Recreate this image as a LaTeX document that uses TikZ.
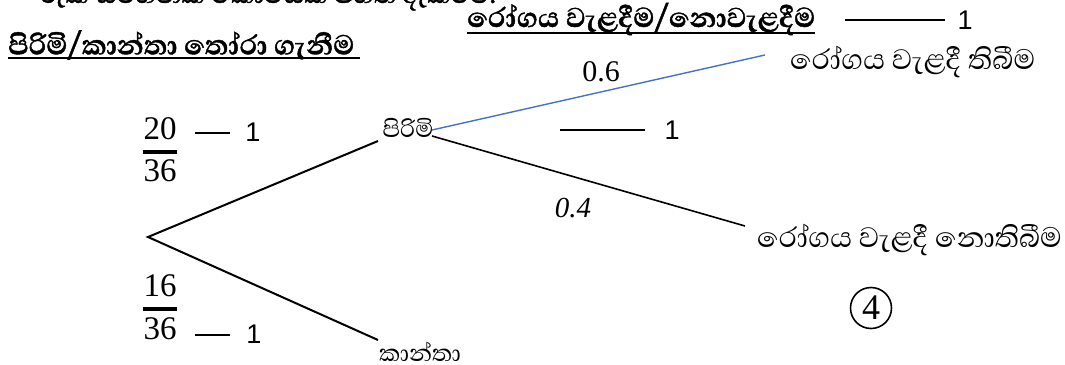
\documentclass[tikz,border=0pt]{standalone}
\usepackage{fontspec}
\setmainfont{Liberation Serif}
\newfontfamily\sinhalafont[Script=Sinhala]{Abhaya Libre}
\newfontfamily\sinhalabold[Script=Sinhala,FakeBold=1.2]{Abhaya Libre}
\newfontfamily\arialf{Liberation Sans}
\definecolor{branchblue}{RGB}{68,114,196}
\begin{document}
\begin{tikzpicture}[x=1pt,y=-1pt,
  sinhtext/.style={font=\sinhalafont\fontsize{36}{40}\selectfont, inner sep=0pt},
  smallsinh/.style={font=\sinhalafont\fontsize{30}{34}\selectfont, inner sep=0pt},
  headtext/.style={font=\sinhalabold\bfseries\fontsize{35}{40}\selectfont, inner sep=0pt},
  onetext/.style={font=\arialf\fontsize{27}{30}\selectfont, inner sep=0pt},
  fractext/.style={font=\fontsize{33}{36}\selectfont, inner sep=0pt},
  fracbar/.style={line width=3.4pt},
  probtext/.style={font=\fontsize{30}{32}\selectfont, inner sep=0pt},
  tick/.style={line width=1.3pt},
  branch/.style={line width=2pt},
  uline/.style={line width=1.8pt},
]
\useasboundingbox (0,0) rectangle (1065,364);
% cut-off top line
\node[inner sep=0pt, font=\sinhalabold\fontsize{33}{36}\selectfont, anchor=base west] (top) at (40,3) {රුක් සටහනක කොටසක් පහත දැක්වේ.};
% headers
\node[headtext, anchor=west] (h1) at (8,45) {පිරිමි/කාන්තා තෝරා ගැනීම};
\coordinate (h1a) at (8,58); \coordinate (h1b) at (360,58);
\draw[uline] (h1a) -- (h1b);
\node[headtext, anchor=west] (h2) at (467,19) {රෝගය වැළදීම/නොවැළදීම};
\coordinate (h2a) at (467,33); \coordinate (h2b) at (815,33);
\draw[uline] (h2a) -- (h2b);
% marks
\coordinate (t1a) at (845,20); \coordinate (t1b) at (945,20);
\draw[tick] (t1a) -- (t1b);
\node[onetext] (o1) at (965,20) {1};
% fraction 20/36
\node[fractext] (n1) at (160,129) {20};
\coordinate (b1a) at (143,152); \coordinate (b1b) at (177,152);
\draw[fracbar] (b1a) -- (b1b);
\node[fractext] (d1) at (160,171) {36};
\coordinate (t2a) at (195,133); \coordinate (t2b) at (230,133);
\draw[tick] (t2a) -- (t2b);
\node[onetext] (o2) at (253,132) {1};
% fraction 16/36
\node[fractext] (n2) at (160,286) {16};
\coordinate (b2a) at (143,309); \coordinate (b2b) at (177,309);
\draw[fracbar] (b2a) -- (b2b);
\node[fractext] (d2) at (160,329) {36};
\coordinate (t3a) at (195,335); \coordinate (t3b) at (230,335);
\draw[tick] (t3a) -- (t3b);
\node[onetext] (o3) at (254,334) {1};
\coordinate (t4a) at (560,130); \coordinate (t4b) at (645,130);
\draw[tick] (t4a) -- (t4b);
\node[onetext] (o4) at (672,130) {1};
% tree
\coordinate (root) at (148,237);
\node[smallsinh] (male) at (408,128) {පිරිමි};
\node[smallsinh, anchor=west] (female) at (379,352) {කාන්තා};
\coordinate (mIn) at (378,141);
\coordinate (fIn) at (378,340);
\coordinate (mOutA) at (432,130);
\coordinate (mOutB) at (432,136);
\coordinate (sickEnd) at (765,55);
\coordinate (wellEnd) at (745,226);
\draw[branch] (mIn) -- (root) -- (fIn);
\draw[line width=1.4pt, branchblue] (mOutA) -- (sickEnd);
\draw[line width=1.6pt] (mOutB) -- (wellEnd);
\node[sinhtext, anchor=west] (sick) at (790,62) {රෝගය වැළදී තිබීම};
\node[sinhtext, anchor=west] (well) at (757,240) {රෝගය වැළදී නොතිබීම};
\node[probtext] (p6) at (601,72) {0.6};
\node[probtext, font=\itshape\fontsize{29}{32}\selectfont] (p4) at (573,208) {0.4};
\node[draw, circle, line width=1.6pt, minimum size=41pt, inner sep=0pt, font=\fontsize{36}{36}\selectfont] (four) at (871,308) {4};
\end{tikzpicture}
\end{document}
